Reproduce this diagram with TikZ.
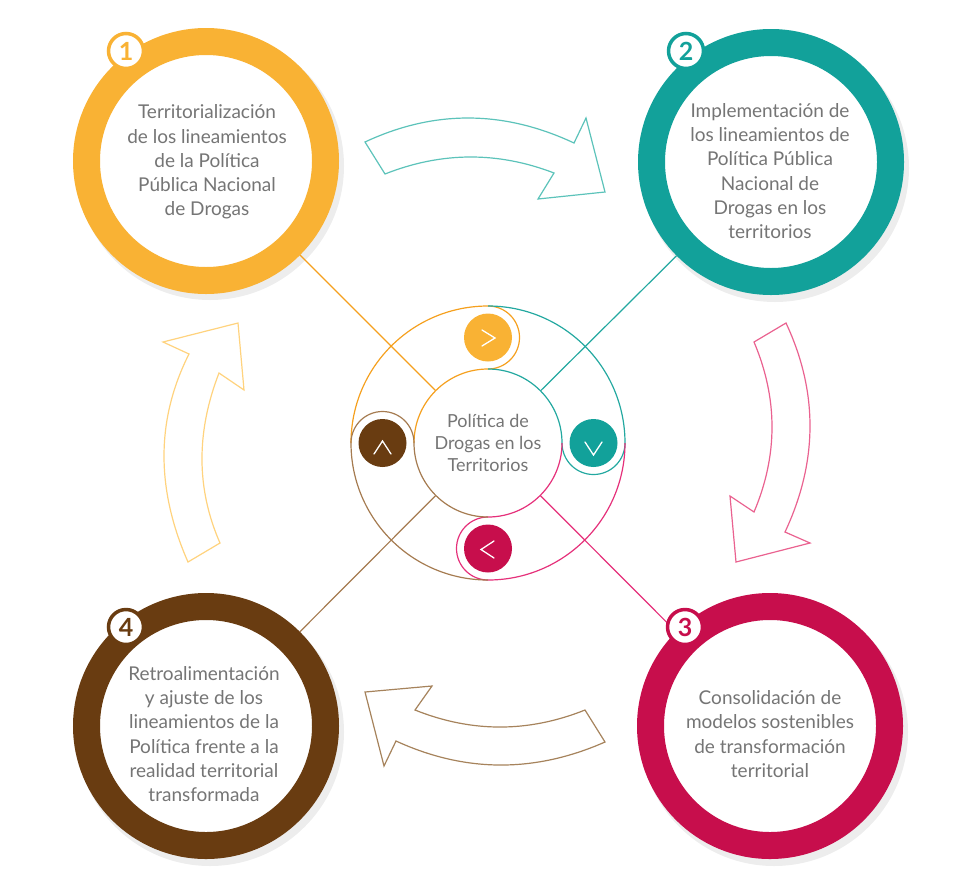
\documentclass[tikz,border=0pt]{standalone}
\usepackage{fontspec}
\setmainfont{Lato}
\definecolor{cOr}{HTML}{F9B234}
\definecolor{cTe}{HTML}{12A19A}
\definecolor{cPk}{HTML}{C70E4C}
\definecolor{cBr}{HTML}{693C11}
\definecolor{lOr}{HTML}{F5A01E}
\definecolor{lTe}{HTML}{23A8A0}
\definecolor{lPk}{HTML}{E5307A}
\definecolor{lBr}{HTML}{A57B50}
\definecolor{aTe}{HTML}{5CC3BA}
\definecolor{aPk}{HTML}{EA6290}
\definecolor{aBr}{HTML}{A6835C}
\definecolor{aOr}{HTML}{FFD37E}
\definecolor{txt}{HTML}{757575}
\begin{document}
\begin{tikzpicture}[x=1pt,y=-1pt,
  ring/.style={circle, draw=#1, line width=27pt, minimum size=239pt, inner sep=0pt, fill=white},
  ringshadow/.style={fill=black!7},
  badge/.style={circle, draw=#1, line width=3.5pt, fill=white, minimum size=35pt, inner sep=0pt,
     text=#1, font=\fontsize{25}{25}\selectfont\bfseries},
  bodytext/.style={align=center, text=txt, font=\fontsize{19}{24.2}\selectfont, inner sep=0pt},
  centertext/.style={align=center, text=txt, font=\fontsize{18}{22}\selectfont, inner sep=0pt},
  link/.style={line width=1.2pt},
  arc line/.style={line width=1.2pt},
  dot/.style={circle, fill=#1, minimum size=48pt, inner sep=0pt},
  chev/.style={white, line width=1.3pt, line cap=round, line join=miter},
  bigarrow/.style={line width=1.2pt, line join=miter, fill=white, draw=#1}
]
\useasboundingbox (0,0) rectangle (966,884);

% shadows
\fill[ringshadow] (210,166) circle[radius=134];
\fill[ringshadow] (775,168) circle[radius=134];
\fill[ringshadow] (774,732) circle[radius=134];
\fill[ringshadow] (210,732) circle[radius=134];

% rings
\node[ring=cOr] (c1) at (206,161) {};
\node[ring=cTe] (c2) at (771,162) {};
\node[ring=cPk] (c3) at (770,726) {};
\node[ring=cBr] (c4) at (206,726) {};

% center inner circle (anchor only)
\node[circle, minimum size=148pt, inner sep=0pt, outer sep=0pt] (ci) at (488,443) {};

% connectors
\draw[link, lOr] (c1) -- (ci);
\draw[link, lTe] (c2) -- (ci);
\draw[link, lPk] (c3) -- (ci);
\draw[link, lBr] (c4) -- (ci);

% center arcs
\draw[arc line, lOr] (351,443) arc[start angle=-180, end angle=-90, radius=137]
   arc[start angle=-90, end angle=90, radius=31.5]
   arc[start angle=-90, end angle=-180, radius=74];
\draw[arc line, lTe] (488,306) arc[start angle=-90, end angle=0, radius=137]
   arc[start angle=0, end angle=180, radius=31.5]
   arc[start angle=0, end angle=-90, radius=74];
\draw[arc line, lPk] (625,443) arc[start angle=0, end angle=90, radius=137]
   arc[start angle=90, end angle=270, radius=31.5]
   arc[start angle=90, end angle=0, radius=74];
\draw[arc line, lBr] (488,580) arc[start angle=90, end angle=180, radius=137]
   arc[start angle=-180, end angle=0, radius=31.5]
   arc[start angle=-180, end angle=-270, radius=74];

% small dots with chevrons
\node[dot=cOr] (d1) at (488,337.5) {};
\node[dot=cTe] (d2) at (593.5,443) {};
\node[dot=cPk] (d3) at (488,548.5) {};
\node[dot=cBr] (d4) at (382.5,443) {};
\draw[chev] (482,330) -- (495,338) -- (482,346);
\draw[chev] (585,442) -- (593.5,455) -- (602,442);
\draw[chev] (494,541) -- (481,549.5) -- (494,558);
\draw[chev] (374,454) -- (382.5,441) -- (391,454);

% center text
\node[centertext] (tc) at (488,443) {Política de\\Drogas en los\\Territorios};

% big arrows
\draw[bigarrow=aTe] (365,142) .. controls (434,109.7) and (503.7,110) .. (574,143) -- (586,118) -- (605,192)
   -- (538,199) -- (554,173) .. controls (497.7,151.3) and (441.3,151.7) .. (385,174) -- cycle;
\draw[bigarrow=aPk] (786,323) .. controls (818.3,392) and (818,461.7) .. (785,532) -- (810,543) -- (736,562)
   -- (730,496) -- (754,512) .. controls (778,455.3) and (778,398.7) .. (754,342) -- cycle;
\draw[bigarrow=aBr] (365,692) -- (432,686) -- (415,710) .. controls (471.7,732.7) and (528.3,732.7) .. (585,710)
   -- (605,742) .. controls (534.7,773) and (465,772.7) .. (396,741) -- (384,766) -- cycle;
\draw[bigarrow=aOr] (188,562) .. controls (155.7,488.7) and (156,419.3) .. (189,354) -- (163,342) -- (238,323)
   -- (244,390) -- (219,373) .. controls (196,432.3) and (196.3,489) .. (220,543) -- cycle;

% badges
\node[badge=cOr] (b1) at (126,51) {1};
\node[badge=cTe] (b2) at (686,51) {2};
\node[badge=cPk] (b3) at (685,627) {3};
\node[badge=cBr] (b4) at (126,627) {4};

% texts
\node[bodytext] (t1) at (207,162) {Territorialización\\de los lineamientos\\de la Política\\Pública Nacional\\de Drogas};
\node[bodytext] (t2) at (770,171) {Implementación de\\los lineamientos de\\Política Pública\\Nacional de\\Drogas en los\\territorios};
\node[bodytext] (t3) at (770,734) {Consolidación de\\modelos sostenibles\\de transformación\\territorial};
\node[bodytext] (t4) at (204,734) {Retroalimentación\\y ajuste de los\\lineamientos de la\\Política frente a la\\realidad territorial\\transformada};
\end{tikzpicture}
\end{document}
